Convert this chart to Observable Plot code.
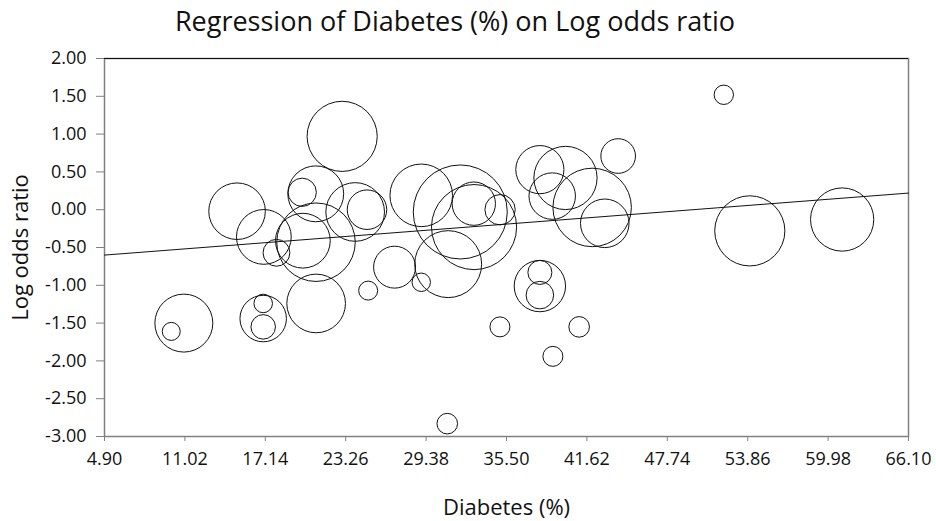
<!DOCTYPE html>
<html>
<head>
<meta charset="utf-8">
<script src="https://cdn.jsdelivr.net/npm/d3@7"></script>
<script src="https://cdn.jsdelivr.net/npm/@observablehq/plot@0.6"></script>
<style>
  body { margin: 0; background: #fff; font-family: "Open Sans", "Noto Sans", sans-serif; }
  #wrap { position: relative; width: 936px; height: 521px; }
  #title { position: absolute; left: 0; width: 910px; top: 2px; text-align: center; font-size: 27px; color: #111; z-index: 2; }
  #chart { position: absolute; left: 0; top: 30px; z-index: 1; }
</style>
</head>
<body>
<div id="wrap">
  <div id="chart"></div>
  <div id="title">Regression of Diabetes (%) on Log odds ratio</div>
</div>
<script>
// Study-level data
const diabetes = [22.99, 14.99, 17.03, 17.99, 20.98, 19.95, 20.00, 21.00, 23.98, 24.88,
                  26.98, 24.97, 29.01, 29.01, 31.98, 31.06, 33.01, 33.03, 35.01, 35.00,
                  10.94, 9.98, 16.98, 16.98, 16.98, 21.01, 30.99, 52.04, 44.00, 38.04,
                  39.99, 38.98, 42.02, 42.98, 54.02, 61.05, 38.04, 38.04, 38.04, 41.03, 39.03];
const logOdds  = [0.97, -0.02, -0.36, -0.57, 0.21, 0.23, -0.41, -0.43, -0.03, 0.00,
                  -0.76, -1.07, -0.96, 0.19, -0.03, -0.72, 0.08, -0.23, 0.00, -1.55,
                  -1.50, -1.61, -1.44, -1.24, -1.55, -1.24, -2.83, 1.52, 0.71, 0.53,
                  0.42, 0.18, 0.03, -0.18, -0.28, -0.13, -1.01, -0.83, -1.13, -1.55, -1.94];
const weight   = [12.3, 8.0, 7.5, 1.8, 7.8, 2.0, 7.5, 15.4, 8.6, 3.9,
                  4.4, 0.9, 0.85, 9.8, 22.1, 11.2, 4.7, 18.1, 2.3, 1.0,
                  8.4, 0.81, 5.4, 0.86, 1.5, 8.6, 1.06, 0.94, 3.0, 5.8,
                  10.0, 5.4, 15.4, 5.9, 12.3, 10.0, 6.6, 1.44, 1.9, 1.06, 1.0];

// Regression coefficients
const intercept = -0.666;
const slope = 0.0134;

const xTicks = [4.90, 11.02, 17.14, 23.26, 29.38, 35.50, 41.62, 47.74, 53.86, 59.98, 66.10];
const yTicks = [-3.0, -2.5, -2.0, -1.5, -1.0, -0.5, 0.0, 0.5, 1.0, 1.5, 2.0];

const points = diabetes.map((d, i) => ({x: d, y: logOdds[i], w: weight[i]}));
const xDomain = [xTicks[0], xTicks[xTicks.length - 1]];
const yDomain = [yTicks[0], yTicks[yTicks.length - 1]];
const fit = xDomain.map(x => ({x, y: intercept + slope * x}));

const axisColor = "#808080";

const chart = Plot.plot({
  width: 936,
  height: 491,
  marginTop: 28,
  marginLeft: 104,
  marginRight: 28,
  marginBottom: 85,
  style: {fontFamily: "'Open Sans', 'Noto Sans', sans-serif", color: "#111", background: "none", overflow: "visible"},
  x: {domain: xDomain, ticks: xTicks, tickFormat: d => d.toFixed(2)},
  y: {domain: yDomain, ticks: yTicks, tickFormat: d => d.toFixed(2)},
  r: {type: "sqrt", domain: [0, 25], range: [0, 50]},
  marks: [
    Plot.frame({stroke: axisColor, strokeWidth: 1.5}),
    Plot.ruleY([yDomain[1]], {stroke: "#111", strokeWidth: 1}),
    Plot.axisX({ticks: xTicks, tickFormat: d => d.toFixed(2), tickSize: 5, tickPadding: 11, stroke: axisColor, fill: "#111",
                fontSize: 18, label: null}),
    Plot.axisY({ticks: yTicks, tickFormat: d => d.toFixed(2), tickSize: 8, tickPadding: 10, stroke: axisColor, fill: "#111",
                fontSize: 18, label: null}),
    Plot.axisX({ticks: [], tickSize: 0, label: "Diabetes (%)", labelAnchor: "center", labelArrow: "none", labelOffset: 78, fontSize: 22, fill: "#111"}),
    Plot.axisY({ticks: [], tickSize: 0, label: "Log odds ratio", labelAnchor: "center", labelArrow: "none", labelOffset: 92, fontSize: 22, fill: "#111"}),
    Plot.line(fit, {x: "x", y: "y", stroke: "#111", strokeWidth: 1}),
    Plot.dot(points, {x: "x", y: "y", r: "w", stroke: "#111", strokeWidth: 1, fill: "none"})
  ]
});
document.getElementById("chart").appendChild(chart);
</script>
</body>
</html>
